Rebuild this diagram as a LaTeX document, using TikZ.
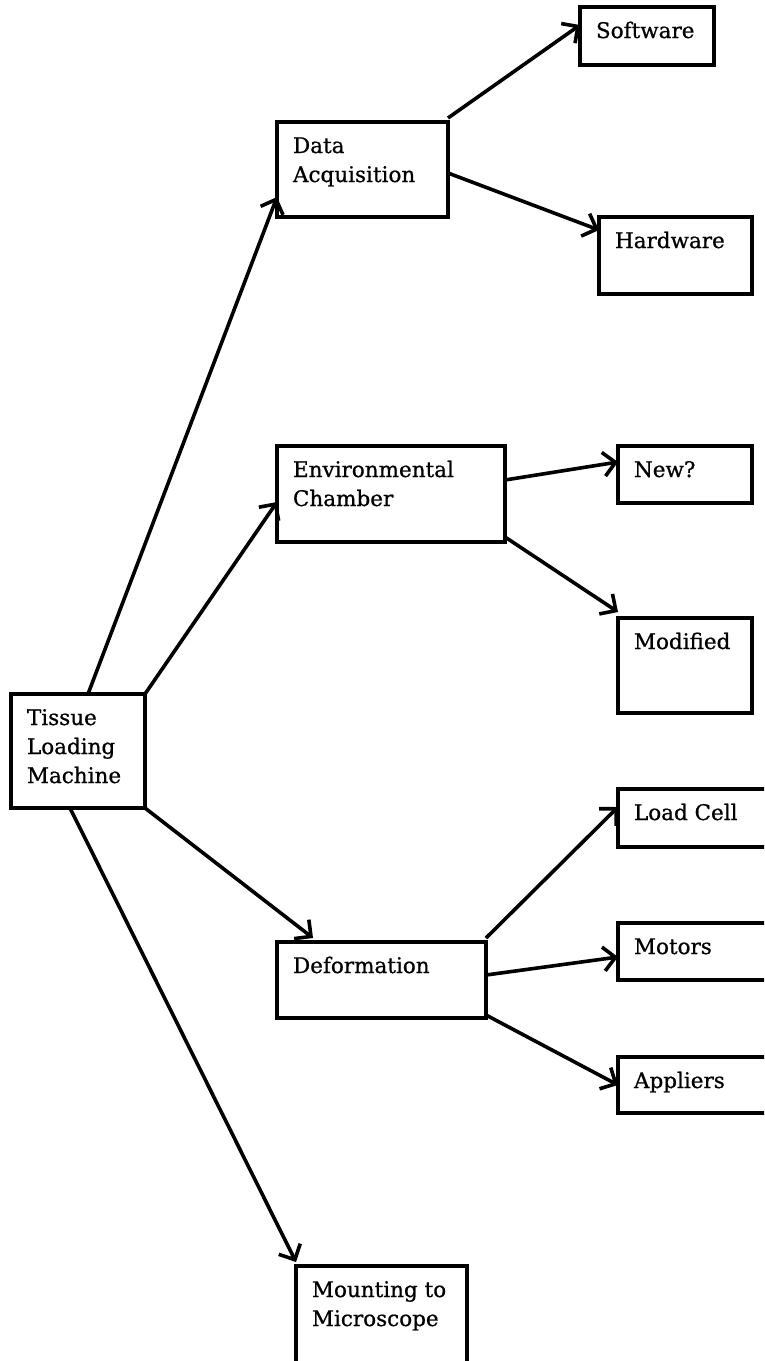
\documentclass[tikz,border=0pt]{standalone}
\usepackage{fontspec}
\setmainfont[FakeBold=0.8]{DejaVu Serif}
\usepackage{tikz}
\usetikzlibrary{arrows.meta,calc}
\tikzstyle{box}=[rectangle,draw=black,line width=3.4pt,anchor=north west,inner sep=0pt,outer sep=0pt]
\tikzstyle{edge}=[draw,line width=3.6pt,-{Straight Barb[length=12pt,width=24pt]}]
\newcommand{\boxtext}[3]{\parbox[c][#2pt][t]{#1pt}{\raggedright\leftskip=16pt\rule{0pt}{31pt}#3}}

\begin{document}
\begin{tikzpicture}[x=1pt,y=-1pt,font=\fontsize{21.5}{29}\selectfont]

 \useasboundingbox (0,0) rectangle (764,1361);
 \clip (0,0) rectangle (764,1361);

 %root and first level
 \foreach \x/\y/\bw/\bh/\name/\txt in {11/694/134/114/tlm/{Tissue\\Loading\\Machine},
     277/122/171/95/daq/{Data\\Acquisition}, 277/446/228/96/env/{Environmental\\Chamber},
     277/942/209/76/def/{Deformation}, 296/1266/171/110/mnt/{Mounting to\\Microscope}}
        \node[box] (\name) at (\x,\y) {\boxtext{\bw}{\bh}{\txt}};

 %second level
 \foreach \x/\y/\bw/\bh/\name/\txt in {580/7/134/58/sw/{Software}, 599/217/153/77/hw/{Hardware},
     618/446/134/57/new/{New?}, 618/618/134/95/mod/{Modified},
     618/789/160/58/lc/{Load Cell}, 618/923/160/57/mot/{Motors}, 618/1057/160/56/app/{Appliers}}
        \node[box] (\name) at (\x,\y) {\boxtext{\bw}{\bh}{\txt}};

 %connectors
 \foreach \source/\sx/\sy/\dest/\ex/\ey in {tlm/77/0/daq/0/75, tlm/134/0/env/0/56,
     tlm/134/114/def/36/-4, tlm/59/114/mnt/0/-4}
        \path[edge] ([shift={(\sx,\sy)}]\source.north west) -- ([shift={(\ex,\ey)}]\dest.north west);

 \foreach \source/\sx/\sy/\dest/\ex/\ey in {daq/171/-4/sw/0/18, daq/171/51/hw/0/13,
     env/228/34/new/0/16, env/228/91/mod/0/-6,
     def/209/-4/lc/0/18, def/209/33/mot/0/34, def/209/73/app/0/28}
        \path[edge] ([shift={(\sx,\sy)}]\source.north west) -- ([shift={(\ex,\ey)}]\dest.north west);

\end{tikzpicture}
\end{document}
